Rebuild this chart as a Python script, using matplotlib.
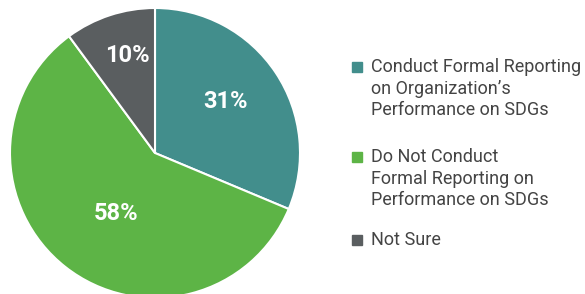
import matplotlib.pyplot as plt
from matplotlib.patches import Rectangle

labels = ["Conduct Formal Reporting\non Organization\u2019s\nPerformance on SDGs",
          "Do Not Conduct\nFormal Reporting on\nPerformance on SDGs",
          "Not Sure"]
values = [31, 58, 10]
pct_text = ["31%", "58%", "10%"]
colors = ["#428e8c", "#5db446", "#5a5e60"]

W, H = 585, 294
fig = plt.figure(figsize=(W / 100, H / 100), dpi=100)

# pie centre (155,153) px, radius 145 px
cx, cy, r = 155, 153, 145
ax = fig.add_axes([(cx - r) / W, (H - cy - r) / H, 2 * r / W, 2 * r / H])
wedges, _ = ax.pie(values, colors=colors, startangle=90, counterclock=False,
                   wedgeprops=dict(edgecolor="white", linewidth=1.5))
ax.set_xlim(-1, 1)
ax.set_ylim(-1, 1)
ax.set_aspect("equal")
ax.axis("off")

# percent labels (pixel positions of centres)
label_pos = [(226, 101), (116, 213), (127, 55)]
for (px, py), t in zip(label_pos, pct_text):
    fig.text(px / W, 1 - py / H, t, color="white", fontsize=17, fontweight="bold",
             family="Roboto", ha="center", va="center")

# legend
entry_y = [67, 157, 240]
for lab, col, y in zip(labels, colors, entry_y):
    fig.patches.append(Rectangle((352 / W, 1 - (y + 5) / H), 10 / W, 10 / H,
                                 transform=fig.transFigure, color=col))
    fig.text(371 / W, 1 - (y - 9) / H, lab, color="#444444", fontsize=13,
             family="Roboto", ha="left", va="top", linespacing=1.25)

fig.savefig("out.png", dpi=100)
